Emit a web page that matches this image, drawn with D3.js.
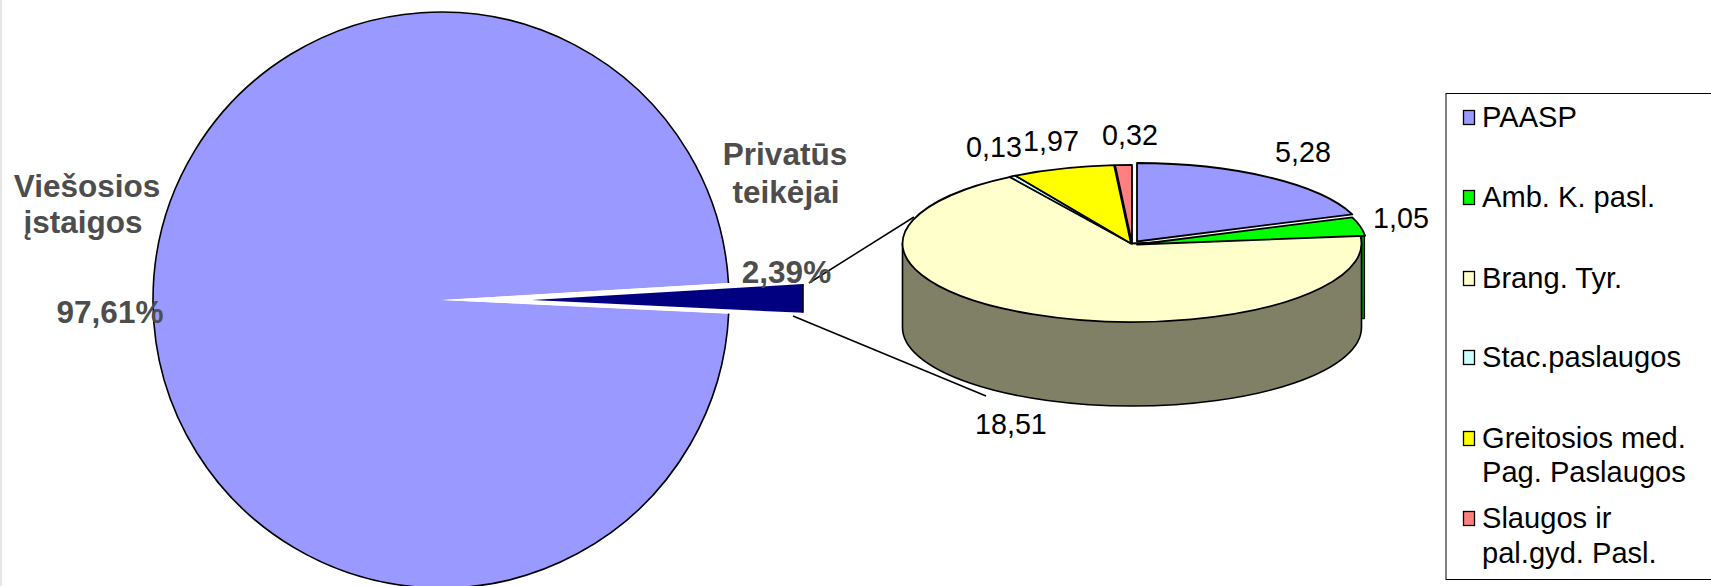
<!DOCTYPE html>
<html><head><meta charset="utf-8">
<script src="https://cdn.jsdelivr.net/npm/d3@7"></script>
<style>html,body{margin:0;padding:0;background:#fff;overflow:hidden}svg{display:block}text{font-family:"Liberation Sans",Arial,sans-serif}</style>
</head><body><svg id="c" width="1711" height="586"></svg>
<script>
const shareLabels = ["Viešosios\nįstaigos", "Privatūs\nteikėjai"];
const shareValues = [97.61, 2.39];
const shareText = ["97,61%", "2,39%"];
const categories = ["PAASP","Amb. K. pasl.","Brang. Tyr.","Stac.paslaugos","Greitosios med.\nPag. Paslaugos","Slaugos ir\npal.gyd. Pasl."];
const values = [5.28,1.05,18.51,0.13,1.97,0.32];
const valueText = ["5,28","1,05","18,51","0,13","1,97","0,32"];
const colors = ["#9999ff","#00ff00","#ffffcc","#ccffff","#ffff00","#ff8080"];

const svg = d3.select("#c");
const rad = d => d*Math.PI/180;
svg.append("rect").attr("x",0).attr("y",0).attr("width",2).attr("height",586).attr("fill","#e6e6e6");

/* big pie: the reference draws the private wedge narrower than its true share */
const C = {x:441,y:300,r:288};
const apex = {x:443,y:300};
const sweep = d3.scaleLinear().domain([0,100]).range([0,rad(255)]);
const wedge = sweep(shareValues[1]);
const upShare = 0.555;
const big = svg.append("g");
const startA = Math.PI/2 + wedge*(1-upShare);
const endA = Math.PI/2 - wedge*upShare + 2*Math.PI;
big.append("path").attr("transform",`translate(${C.x},${C.y})`)
  .attr("d",d3.arc().innerRadius(0).outerRadius(C.r).startAngle(startA).endAngle(endA)())
  .attr("fill",colors[0]);
big.append("path").attr("transform",`translate(${apex.x},${apex.y})`)
  .attr("d",d3.arc().innerRadius(0).outerRadius(C.r+4).startAngle(Math.PI/2-wedge*upShare).endAngle(Math.PI/2+wedge*(1-upShare))())
  .attr("fill","#fff");
big.append("path").attr("transform",`translate(${C.x},${C.y})`)
  .attr("d",d3.arc().innerRadius(C.r).outerRadius(C.r).startAngle(startA).endAngle(endA)())
  .attr("fill","none").attr("stroke","#000").attr("stroke-width",1.6);

/* exploded wedge */
const nx0=532, nx1=803, ny0=300;
const dxN = nx1-nx0;
const tri = [[nx0,ny0],[nx1,ny0-dxN*Math.tan(wedge*upShare)],[nx1,ny0+dxN*Math.tan(wedge*(1-upShare))]];
big.append("path").attr("d",d3.line()(tri)+"Z").attr("fill","#000080");
big.append("line").attr("x1",nx1).attr("x2",nx1).attr("y1",tri[1][1]).attr("y2",tri[2][1]).attr("stroke","#000").attr("stroke-width",1.6);

/* leader lines */
[[809,283,914,217],[793,316,986,396]].forEach(l=>svg.append("line")
  .attr("x1",l[0]).attr("y1",l[1]).attr("x2",l[2]).attr("y2",l[3]).attr("stroke","#000").attr("stroke-width",1.5));

/* 3D pie */
const P = {x:1132,y:243.5,rx:229.5,ry:78.5,depth:84};
const k = P.ry/P.rx;
const pie3 = svg.append("g");
const arcs = d3.pie().sort(null)(values);
const offsets = [[5,-2],[5,1],[0,0],[-1,0],[-1,0],[0,0]];
const ge = (dx,dy)=>`translate(${P.x+dx},${P.y+dy}) scale(1,${k})`;
// green side
const gA = arcs[1].endAngle;
const gx = Math.sin(gA)*P.rx+offsets[1][0], gy=-Math.cos(gA)*P.ry+offsets[1][1];
pie3.append("path").attr("d",d3.line()([[P.x+P.rx-3,P.y+gy],[P.x+gx-0.5,P.y+gy],[P.x+gx-0.5,P.y+gy+P.depth-1],[P.x+P.rx-3,P.y+gy+P.depth-1]])+"Z")
  .attr("fill","#008000").attr("stroke","#000").attr("stroke-width",1);
// cream side
const side = d3.path();
side.moveTo(-P.rx,0);
side.lineTo(-P.rx,P.depth/k);
side.arc(0,P.depth/k,P.rx,Math.PI,0,true);
side.lineTo(P.rx,0);
side.closePath();
pie3.append("path").attr("transform",ge(0,0)).attr("d",side.toString())
  .attr("fill","#808066").attr("stroke","#000").attr("stroke-width",1.6).attr("vector-effect","non-scaling-stroke");
// tops, cream first
const order = [2,0,1,3,4,5];
const arcGen = d3.arc().innerRadius(0).outerRadius(P.rx);
order.forEach(i=>{
  pie3.append("path").attr("transform",ge(offsets[i][0],offsets[i][1])).attr("d",arcGen(arcs[i]))
    .attr("fill",colors[i]).attr("stroke","#000").attr("stroke-width",1.8).attr("stroke-linejoin","round")
    .attr("vector-effect","non-scaling-stroke");
});

/* bold labels */
const boldAttrs = s=>s.attr("font-weight","bold").attr("font-size",31.5).attr("fill","#4d4d4d").attr("text-anchor","middle");
[[shareLabels[0].split("\n")[0],87,197],[shareLabels[0].split("\n")[1],83,233],[shareText[0],110,323],
 [shareLabels[1].split("\n")[0],785,165],[shareLabels[1].split("\n")[1],786,203],[shareText[1],786.5,283]]
 .forEach(t=>boldAttrs(svg.append("text")).attr("x",t[1]).attr("y",t[2]).text(t[0]));

/* value labels */
const vp = [[1275,162],[1373,228],[975,434],[966,157],[1023,151],[1102,145]];
valueText.forEach((t,i)=>svg.append("text").attr("x",vp[i][0]).attr("y",vp[i][1]).attr("font-size",28.7).attr("fill","#000").text(t));

/* legend */
const L = svg.append("g");
L.append("rect").attr("x",1446).attr("y",93.5).attr("width",300).attr("height",486).attr("fill","#fff").attr("stroke","#000").attr("stroke-width",1);
const swY = [117,197,278,357,438,518];
const txtY = [[127],[207],[288],[367],[448,482],[528,563]];
categories.forEach((c,i)=>{
  L.append("rect").attr("x",1463.5).attr("y",swY[i]-6.5).attr("width",11).attr("height",14).attr("fill",colors[i]).attr("stroke","#000").attr("stroke-width",1.3);
  c.split("\n").forEach((line,j)=>L.append("text").attr("x",1482).attr("y",txtY[i][j]).attr("font-size",29.1).attr("fill","#000").text(line));
});
</script></body></html>
